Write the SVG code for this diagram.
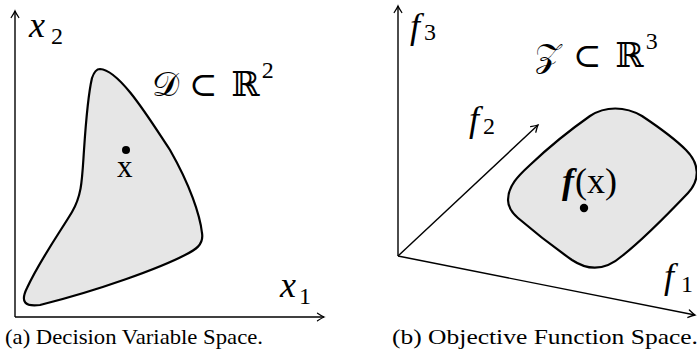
<svg xmlns="http://www.w3.org/2000/svg" width="697" height="354" viewBox="0 0 697 354">
<style>
.ax{stroke:#000;stroke-width:1.4;fill:none}
.region{fill:#e6e6e6;stroke:#000;stroke-width:2.2;stroke-linejoin:round}
.m{font-family:"Liberation Serif","DejaVu Serif",serif;fill:#000}
.it{font-style:italic}
.cap{font-family:"Liberation Serif","DejaVu Serif",serif;font-size:22px;fill:#000}
</style>
<defs>
<marker id="arr" markerWidth="10" markerHeight="10" refX="0" refY="0" viewBox="-8 -5 10 10" orient="auto" markerUnits="userSpaceOnUse">
<path d="M -6.5 -3.8 Q -2 -0.8 0 0 Q -2 0.8 -6.5 3.8" fill="none" stroke="#000" stroke-width="1.3" stroke-linecap="round"/>
</marker>
</defs>
<g id="connectors">
<line class="ax" x1="15" y1="317" x2="15" y2="11" marker-end="url(#arr)"/>
<line class="ax" x1="15" y1="317" x2="324" y2="317" marker-end="url(#arr)"/>
<line class="ax" x1="398" y1="256" x2="398" y2="6" marker-end="url(#arr)"/>
<line class="ax" x1="398" y1="256" x2="538" y2="125" marker-end="url(#arr)"/>
<line class="ax" x1="398" y1="256" x2="695" y2="315" marker-end="url(#arr)"/>
</g>
<g id="decision-space">
<path class="region" d="M 100,69 C 120,70 150,120 170,150 C 190,185 200,215 202,233 C 204,245 195,250 185,255 C 160,268 100,290 40,305 C 25,307 20,302 27,288 C 40,260 60,232 72,212 C 82,195 82,180 84,150 C 86,120 88,95 92,78 C 94,72 96,69 100,69 Z"/>
<circle cx="126" cy="150" r="4" fill="#000"/>
<text class="m" x="117" y="177" font-size="31">x</text>
</g>
<g id="objective-space">
<path class="region" d="M 508,200 C 508,186 518,176 530,165 C 550,146 570,130 590,116 C 605,106 625,106 642,116 C 660,128 675,139 686,150 C 700,164 700,180 688,193 C 668,214 645,238 622,256 C 606,270 590,272 572,260 C 552,246 532,230 518,218 C 511,212 508,207 508,200 Z"/>
<circle cx="584" cy="208" r="4.2" fill="#000"/>
<text class="m" x="562" y="193" font-size="36"><tspan font-style="italic" font-weight="bold">f</tspan><tspan dx="1">(x)</tspan></text>
</g>
<g id="labels">
<text class="m it" x="29" y="37" font-size="36">x</text>
<text class="m" x="51" y="44" font-size="24">2</text>
<text class="m it" x="280" y="297" font-size="36">x</text>
<text class="m" x="299" y="304" font-size="24">1</text>
<text class="m" x="152" y="96" font-size="34"><tspan>𝒟</tspan><tspan dx="10">⊂</tspan><tspan dx="14">ℝ</tspan><tspan font-size="24" dy="-18" dx="2">2</tspan></text>
<text class="m it" x="410" y="38" font-size="36">f</text>
<text class="m" x="424" y="40" font-size="24">3</text>
<text class="m" x="535" y="67" font-size="34"><tspan>𝒵</tspan><tspan dx="12">⊂</tspan><tspan dx="14">ℝ</tspan><tspan font-size="24" dy="-18" dx="2">3</tspan></text>
<text class="m it" x="469" y="131" font-size="36">f</text>
<text class="m" x="483" y="134" font-size="24">2</text>
<text class="m it" x="664" y="288" font-size="36">f</text>
<text class="m" x="681" y="292" font-size="24">1</text>
</g>
<g id="captions">
<text class="cap" x="5" y="344" textLength="258" lengthAdjust="spacingAndGlyphs">(a) Decision Variable Space.</text>
<text class="cap" x="392" y="344" textLength="306" lengthAdjust="spacingAndGlyphs">(b) Objective Function Space.</text>
</g>
</svg>
